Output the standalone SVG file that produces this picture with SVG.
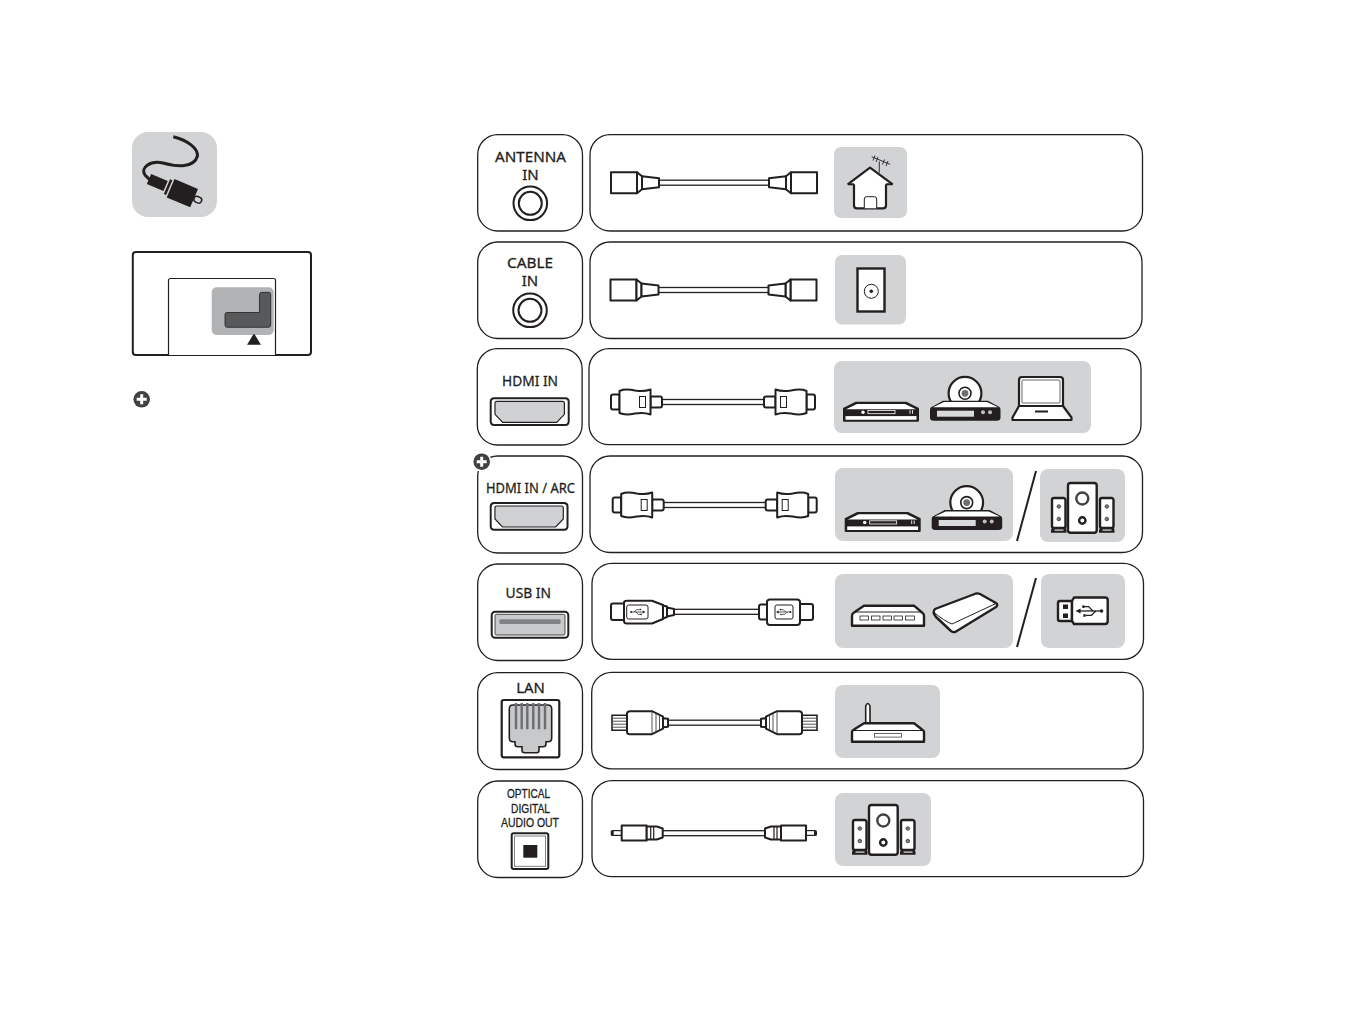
<svg xmlns="http://www.w3.org/2000/svg" width="1365" height="1013" viewBox="0 0 1365 1013">
<style>
.panel{fill:#fff;stroke:#231f20;stroke-width:1.3}
.bg{fill:#d2d3d4}
.lbl{font-family:"Noto Sans","Open Sans","Liberation Sans",sans-serif;font-size:15px;fill:#231f20;stroke:#231f20;stroke-width:.3;text-anchor:middle}
.sm{font-family:"Liberation Sans","Noto Sans",sans-serif;font-size:12.2px}
.ln{fill:#fff;stroke:#231f20;stroke-width:2;stroke-linejoin:round}
.ink{fill:#231f20}
.port{fill:#fff;stroke:#231f20;stroke-width:2}
.cable{fill:#fff;stroke:#231f20;stroke-width:1.3}
.thin{fill:none;stroke:#414042;stroke-width:.9}
.dev{fill:#fff;stroke:#231f20;stroke-width:2.4;stroke-linejoin:round}
.slash{stroke:#231f20;stroke-width:2;fill:none}
</style>
<defs>
<g id="coax"><path class="ln" d="M0,-10.5H26V10.5H0Z"/><path class="ln" d="M26,-10.5L31,-6.5V6.5L26,10.5Z"/><path class="ln" d="M31,-6.5L48,-4.5V4.5L31,6.5Z"/></g>
<g id="hdmi"><path class="ln" d="M8.5,-7.5H2Q0,-7.5 0,-5.5V5.5Q0,7.5 2,7.5H8.5Z"/><path class="ln" d="M39.5,-5.5H49Q51,-5.5 51,-3.5V3.5Q51,5.5 49,5.5H39.5Z"/><path class="ln" d="M8.5,-11Q14,-13.5 24,-11.5Q33,-10 39.5,-12.5V12.5Q33,10 24,11.5Q14,13.5 8.5,11Z"/><rect x="28.5" y="-5.5" width="6" height="11" fill="#fff" stroke="#231f20" stroke-width="1"/></g>
<g id="rj45"><path d="M0,-7.5H15V7.5H0Z" fill="#fff" stroke="#231f20" stroke-width="1.6"/><path class="thin" d="M1,-4.5H15M1,-1.5H15M1,1.5H15M1,4.5H15"/><path class="ln" d="M15,-9Q15,-11.5 18,-11.5H40L51,-6V6L40,11.5H18Q15,11.5 15,9Z"/><path class="thin" d="M40,-11V11M44,-9V9M47.5,-7.5V7.5"/><path class="ln" d="M51,-4.5L56,-4V4L51,4.5Z"/></g>
<g id="opt"><path class="ink" d="M0,-1.5Q0,-3 2,-3H11V3H2Q0,3 0,1.5Z"/><rect x="3" y="-1.8" width="8" height="3.6" fill="#fff"/><path class="ln" d="M11,-7.5H36V7.5H11Z"/><path class="ln" d="M36,-6.5H46L52,-4.5V4.5L46,6.5H36Z"/><path d="M40,-6V6M43,-6V6" stroke="#231f20" stroke-width="1.2"/></g>
<g id="usbsym"><path d="M-8,0H7" stroke="#231f20" stroke-width=".9" fill="none"/><path class="ink" d="M6.5,-1.8L10,0L6.5,1.8Z"/><circle class="ink" cx="-8" cy="0" r="1.2"/><path d="M-4,0L-1,-3H3M-2,0L1,3H4" stroke="#231f20" stroke-width=".9" fill="none"/><rect class="ink" x="3" y="-4" width="1.6" height="1.8"/><circle class="ink" cx="4.5" cy="3" r="1"/></g>
<g id="dvd"><path class="ink" d="M0,6L12,0H62L74,6V18H0Z"/><path d="M2,6.5L13,1.2H61L72,6.5Z" fill="#fff"/><rect x="1.5" y="13.4" width="71" height="4.6" fill="#fff"/><rect x="24" y="7.8" width="27" height="3.2" fill="#231f20" stroke="#fff" stroke-width=".8"/><circle cx="19" cy="9.5" r="1.7" fill="#fff"/><path d="M66,7.5V11M68.5,7.5V11" stroke="#fff" stroke-width=".9"/><path d="M0,6L12,0H62L74,6V18H0Z" fill="none" stroke="#231f20" stroke-width="2" stroke-linejoin="round"/></g>
<g id="disc"><circle cx="35" cy="-7.4" r="16.4" fill="#fff" stroke="#231f20" stroke-width="2.2"/><circle cx="35" cy="-7.4" r="6" fill="#fff" stroke="#231f20" stroke-width="1.6"/><circle cx="35" cy="-7.4" r="3.4" fill="#6d6e71"/><path class="ink" d="M0,8.5Q0,6.5 2,6L13,0H58L69,6Q70.5,6.5 70.5,8.5V17Q70.5,20 67,20H3.5Q0,20 0,17Z"/><path d="M3,6.6L14,1.4H57L68,6.6Z" fill="#fff"/><rect x="7" y="10" width="37" height="6" fill="#d9dadb"/><circle cx="53" cy="11.5" r="2" fill="#bcbec0"/><circle cx="60" cy="11.5" r="2" fill="#bcbec0"/></g>
<g id="speakers"><rect class="dev" x="0" y="0" width="28.7" height="49.7" rx="2.5"/><circle cx="14.3" cy="15.5" r="6" fill="#fff" stroke="#414042" stroke-width="2.4"/><circle cx="14.3" cy="37.5" r="3.2" fill="#fff" stroke="#231f20" stroke-width="2.4"/>
<g id="spk"><path class="ink" d="M-17,49.7V47Q-16,44 -14,44H-4Q-2,44 -1.5,47V49.7Z"/><path d="M-13.5,47H-4.5" stroke="#fff" stroke-width="1.2"/><rect class="dev" x="-16" y="15" width="13.5" height="30" rx="2"/><circle cx="-9.2" cy="23.5" r="1.8" fill="#808285" stroke="#231f20" stroke-width=".7"/><circle cx="-9.2" cy="36" r="1.8" fill="#808285" stroke="#231f20" stroke-width=".7"/></g>
<use href="#spk" x="48"/></g>
<g id="plus"><circle r="8.3" fill="#414042"/><path d="M-5,0H5M0,-5V5" stroke="#fff" stroke-width="3"/></g>
<path id="hdmiport" d="M0,3.5Q0,0 3.5,0H74.5Q78,0 78,3.5V23Q78,26.7 74.5,26.7H3.5Q0,26.7 0,23Z"/>
<path id="hdmiin" d="M4.3,5Q4.3,3 6.3,3H71.7Q73.7,3 73.7,5V16L66,24H12L4.3,16Z"/>
</defs>

<g id="intro-icon"><rect class="bg" x="132" y="132" width="85" height="85" rx="16"/><path d="M173.3,136.7C187,140 198,148 197.5,156C194,168 177,167 163,163C150,160 140,168 145,175L152,182" fill="none" stroke="#231f20" stroke-width="3"/>
<g transform="translate(149,179) rotate(23)"><rect class="ink" x="0" y="-5.5" width="18" height="11"/><rect class="ink" x="19.5" y="-8" width="2.5" height="16"/><rect class="ink" x="23.5" y="-10" width="25.5" height="20"/><rect x="49" y="-3" width="8" height="6" rx="3" fill="#d2d3d4" stroke="#231f20" stroke-width="1.5"/></g></g>
<g id="tv-rear"><rect x="132.8" y="252" width="178.2" height="103" rx="3" fill="#fff" stroke="#231f20" stroke-width="2"/><path d="M168.5,355V280.5Q168.5,278.5 170.5,278.5H273.5Q275.5,278.5 275.5,280.5V355" fill="#fff" stroke="#231f20" stroke-width="1.2"/><rect x="211.7" y="287.3" width="62" height="47.7" rx="5" fill="#b1b3b5"/><path d="M227,312.5H259.5V294.5Q259.5,292.3 262,292.3H268.5Q270.7,292.3 270.7,294.5V325Q270.7,327.3 268.5,327.3H227Q225,327.3 225,325V314.5Q225,312.5 227,312.5Z" fill="#58595b" stroke="#231f20" stroke-width=".8"/><path d="M246.7,345L254,332.7L261.3,345Z" fill="#231f20" stroke="#fff" stroke-width=".5"/></g>
<g id="note-plus"><use href="#plus" x="141.7" y="399.3"/></g>

<g id="antenna-in"><rect class="panel" x="477.7" y="134.7" width="104.8" height="96.3" rx="20"/><text class="lbl" x="530.5" y="161.7" textLength="71" lengthAdjust="spacingAndGlyphs">ANTENNA</text><text class="lbl" x="530.5" y="180">IN</text><circle cx="530.3" cy="203.3" r="16.8" class="port"/><circle cx="530.3" cy="203.3" r="11.5" class="port"/></g>
<g id="cable-in"><rect class="panel" x="477.7" y="242" width="104.8" height="96.5" rx="20"/><text class="lbl" x="530" y="267.7" textLength="46" lengthAdjust="spacingAndGlyphs">CABLE</text><text class="lbl" x="530" y="285.7">IN</text><circle cx="530" cy="310.3" r="16.8" class="port"/><circle cx="530" cy="310.3" r="11.5" class="port"/></g>
<g id="hdmi-in"><rect class="panel" x="477.3" y="348.7" width="104.8" height="96.3" rx="20"/><text class="lbl" x="530" y="385.7" textLength="56" lengthAdjust="spacingAndGlyphs">HDMI IN</text><g transform="translate(490.7,398.3)"><use href="#hdmiport" class="port"/><use href="#hdmiin" fill="#d0d1d2" stroke="#231f20" stroke-width="1.2"/></g></g>
<g id="hdmi-arc"><rect class="panel" x="477.7" y="456" width="104.8" height="97" rx="20"/><text class="lbl" x="530.5" y="492.7" textLength="89" lengthAdjust="spacingAndGlyphs">HDMI IN / ARC</text><g transform="translate(490.7,503) scale(.985,1)"><use href="#hdmiport" class="port"/><use href="#hdmiin" fill="#d0d1d2" stroke="#231f20" stroke-width="1.2"/></g><circle cx="481.7" cy="461.7" r="9.8" fill="#fff"/><use href="#plus" x="481.7" y="461.7"/></g>
<g id="usb-in"><rect class="panel" x="477.7" y="564" width="104.8" height="96.5" rx="20"/><text class="lbl" x="528.3" y="597.7" textLength="45.5" lengthAdjust="spacingAndGlyphs">USB IN</text><rect class="port" x="491.7" y="611.7" width="76.6" height="26" rx="3.5"/><rect x="495" y="614.3" width="70" height="20.7" rx="1.5" fill="#c8c9ca" stroke="#231f20" stroke-width=".8"/><rect x="499.3" y="619.3" width="61.4" height="4.8" rx="1.5" fill="#808285"/></g>
<g id="lan"><rect class="panel" x="477.7" y="672.7" width="104.8" height="96.8" rx="20"/><text class="lbl" x="530.6" y="692.7" textLength="28.7" lengthAdjust="spacingAndGlyphs">LAN</text><rect x="501.7" y="700" width="57.6" height="57.3" rx="2" fill="#fff" stroke="#231f20" stroke-width="2.2"/><path d="M509.3,709Q509.3,705 513,705H548Q551.7,705 551.7,709V738Q551.7,741.7 548,741.7H546V744Q546,746.7 543,746.7H539V750Q539,752.7 536.7,752.7H524.5Q522,752.7 522,750V746.7H518Q515,746.7 515,744V741.7H513Q509.3,741.7 509.3,738Z" fill="#c8c9ca" stroke="#231f20" stroke-width="1.6"/><path d="M516,703V729.3M521.7,703V729.3M527.3,703V729.3M533.3,703V729.3M539,703V729.3M545,703V729.3" stroke="#6d6e71" stroke-width="2.4"/></g>
<g id="optical"><rect class="panel" x="477.7" y="781" width="104.8" height="96.5" rx="20"/><text class="lbl sm" x="528.5" y="798.3" textLength="43" lengthAdjust="spacingAndGlyphs">OPTICAL</text><text class="lbl sm" x="530.5" y="812.5" textLength="39" lengthAdjust="spacingAndGlyphs">DIGITAL</text><text class="lbl sm" x="530" y="826.8" textLength="58" lengthAdjust="spacingAndGlyphs">AUDIO OUT</text><rect class="port" x="511.7" y="833.3" width="36.6" height="35.7" rx="2"/><rect x="514.5" y="836" width="31" height="30.3" fill="#fff" stroke="#808285" stroke-width="1"/><rect class="ink" x="523.3" y="845" width="14" height="12.7"/></g>

<g id="antenna-panel"><rect class="panel" x="590" y="134.7" width="552.5" height="96.3" rx="20"/><rect class="bg" x="834" y="147" width="73" height="71" rx="7"/><path d="M854,183V205.5Q854,208.3 857,208.3H883Q886,208.3 886,205.5V183" fill="#fff" stroke="#231f20" stroke-width="2.2"/><path d="M864.3,208.3V199Q864.3,196.7 866.5,196.7H874.5Q876.7,196.7 876.7,199V208.3" fill="#fff" stroke="#231f20" stroke-width="1"/><path d="M847.7,184.3L870,167.7L892.7,184.3" fill="#fff" stroke="#231f20" stroke-width="2.2" stroke-linejoin="round"/><path d="M847.7,184.3H854M886,184.3H892.7" stroke="#231f20" stroke-width="2"/><path d="M879.3,172.7V161.5M871.7,156.7L890,164.3M875,155.5L873,160.5M878,157L876,162M884.5,159.5L882.5,164.5M888,161L886,166" stroke="#231f20" stroke-width=".9" fill="none"/></g>
<g id="cable-panel"><rect class="panel" x="590" y="242" width="552" height="96.5" rx="20"/><rect class="bg" x="835" y="255" width="71" height="69.5" rx="7"/><rect x="857.5" y="268.5" width="27" height="43" fill="#fff" stroke="#231f20" stroke-width="2.4"/><circle cx="871.3" cy="291.3" r="7" fill="#fff" stroke="#231f20" stroke-width="1"/><circle class="ink" cx="871.3" cy="291.3" r="1.8"/></g>
<g id="hdmi-panel"><rect class="panel" x="589" y="348.7" width="552" height="96" rx="20"/><rect class="bg" x="834" y="361" width="257" height="72" rx="8"/><use href="#dvd" x="844" y="402.7"/><use href="#disc" x="930" y="400.7"/><path d="M1019,380Q1019,377 1022,377H1060Q1063,377 1063,380V406H1019Z" fill="#fff" stroke="#231f20" stroke-width="2.2"/><rect x="1022" y="380" width="38" height="23" rx="1" fill="#fff" stroke="#414042" stroke-width=".8"/><path d="M1019,406H1063L1071.5,417.5V420H1012.5V417.5Z" fill="#fff" stroke="#231f20" stroke-width="2.2" stroke-linejoin="round"/><rect x="1035" y="410.5" width="13" height="2" class="ink"/></g>
<g id="arc-panel"><rect class="panel" x="590" y="456" width="552.5" height="96.5" rx="20"/><rect class="bg" x="835" y="468" width="178" height="73" rx="8"/><rect class="bg" x="1040" y="469" width="85" height="73" rx="8"/><use href="#dvd" x="845.7" y="513"/><use href="#disc" x="931.7" y="510"/><path class="slash" d="M1036,471L1017,541"/><use href="#speakers" x="1068" y="483"/></g>
<g id="usb-panel"><rect class="panel" x="592" y="563.3" width="551.5" height="96" rx="20"/><rect class="bg" x="835" y="574" width="178" height="74" rx="8"/><rect class="bg" x="1041" y="574" width="84" height="74" rx="8"/><path class="dev" d="M852,625.7V616Q852,613.5 854,612.5L864,605.7H914L922,612.5Q924,613.5 924,616V625.7Z"/><path d="M854,612H922" stroke="#231f20" stroke-width="1"/><g fill="#fff" stroke="#231f20" stroke-width=".8"><rect x="860" y="616" width="8.5" height="4"/><rect x="871.5" y="616" width="8.5" height="4"/><rect x="883" y="616" width="8.5" height="4"/><rect x="894" y="616" width="8.5" height="4"/><rect x="905.5" y="616" width="9" height="4"/></g><path class="dev" d="M935,609L976,593.5Q978,593 980,594L996,603Q998.5,605 996,607L956,631.5Q953.5,633 951,631L936,617Q932,612 935,609Z"/><path d="M933.5,612Q944,621 952,624L997,603" stroke="#231f20" stroke-width="1" fill="none"/><path class="slash" d="M1036,578L1017,647"/><path class="dev" d="M1072,601H1060Q1058,601 1058,603V619Q1058,621 1060,621H1072Z"/><path class="dev" d="M1072,601L1074,597.5H1105Q1107.7,597.5 1107.7,600V621Q1107.7,624 1105,624H1074L1072,621Z"/><rect class="ink" x="1063" y="604.5" width="5" height="4.5"/><rect class="ink" x="1063" y="613.5" width="5" height="4.5"/><use href="#usbsym" transform="translate(1090,611) rotate(180) scale(1.45)"/></g>
<g id="lan-panel"><rect class="panel" x="591.7" y="672.3" width="551.5" height="96.5" rx="20"/><rect class="bg" x="835" y="685" width="105" height="73" rx="8"/><path d="M865.7,723V706Q867.8,701 870,706V723Z" fill="#fff" stroke="#231f20" stroke-width="1.6"/><path class="dev" d="M852,741.7V732Q852,730.5 854,729.5L864,723.3H914L922,729.5Q924,730.5 924,732V741.7Z"/><path d="M853,730.5H923" stroke="#231f20" stroke-width="1"/><rect x="874.5" y="733.5" width="27" height="3.6" fill="#fff" stroke="#414042" stroke-width=".8"/></g>
<g id="optical-panel"><rect class="panel" x="592" y="780.7" width="551.5" height="96" rx="20"/><rect class="bg" x="835" y="793" width="96" height="73" rx="8"/><use href="#speakers" x="869" y="805"/></g>

<g id="connectors">
<rect class="cable" x="658" y="180.2" width="112" height="5"/><use href="#coax" x="611" y="182.7"/><use href="#coax" transform="translate(817,182.7) scale(-1,1)"/>
<rect class="cable" x="658" y="287.5" width="112" height="5"/><use href="#coax" x="610.5" y="290"/><use href="#coax" transform="translate(816.5,290) scale(-1,1)"/>
<rect class="cable" x="660" y="399.5" width="106" height="5"/><use href="#hdmi" x="611" y="402"/><use href="#hdmi" transform="translate(815,402) scale(-1,1)"/>
<rect class="cable" x="662" y="502.5" width="106" height="5"/><use href="#hdmi" x="612.7" y="505"/><use href="#hdmi" transform="translate(816.7,505) scale(-1,1)"/>
<rect class="cable" x="672" y="609.3" width="90" height="5"/>
<path class="ln" d="M626,603.5H613Q611,603.5 611,605.5V618Q611,620 613,620H626Z"/><path class="ln" d="M624,603Q624,600.7 627,600.7H652L663,605V619L652,623.5H627Q624,623.5 624,621Z"/><path class="ln" d="M663,605.5L667,606.5V617L663,618.5Z"/><path class="ln" d="M667,607.5L674,609V615L667,616.5Z"/><rect x="626.7" y="605" width="21.3" height="14" rx="2" fill="#fff" stroke="#231f20" stroke-width="1"/><use href="#usbsym" transform="translate(637.5,612) scale(.8)"/>
<path class="ln" d="M768,604.5H761Q759,604.5 759,606.5V617.5Q759,619.5 761,619.5H768Z"/><path class="ln" d="M800,604H811Q813,604 813,606V618Q813,620 811,620H800Z"/><path class="ln" d="M767,602Q767,599.5 770,599.5H797Q800,599.5 800,602V622Q800,625 797,625H770Q767,625 767,622Z"/><rect x="775" y="605" width="18" height="14" rx="2" fill="#fff" stroke="#231f20" stroke-width="1"/><use href="#usbsym" transform="translate(784,612) rotate(180) scale(.8)"/>
<rect class="cable" x="665" y="720.2" width="98" height="5"/><use href="#rj45" x="612" y="722.7"/><use href="#rj45" transform="translate(817,722.7) scale(-1,1)"/>
<rect class="cable" x="660" y="830.7" width="108" height="5"/><use href="#opt" x="610.7" y="833"/><use href="#opt" transform="translate(817,833) scale(-1,1)"/>
</g>
</svg>
